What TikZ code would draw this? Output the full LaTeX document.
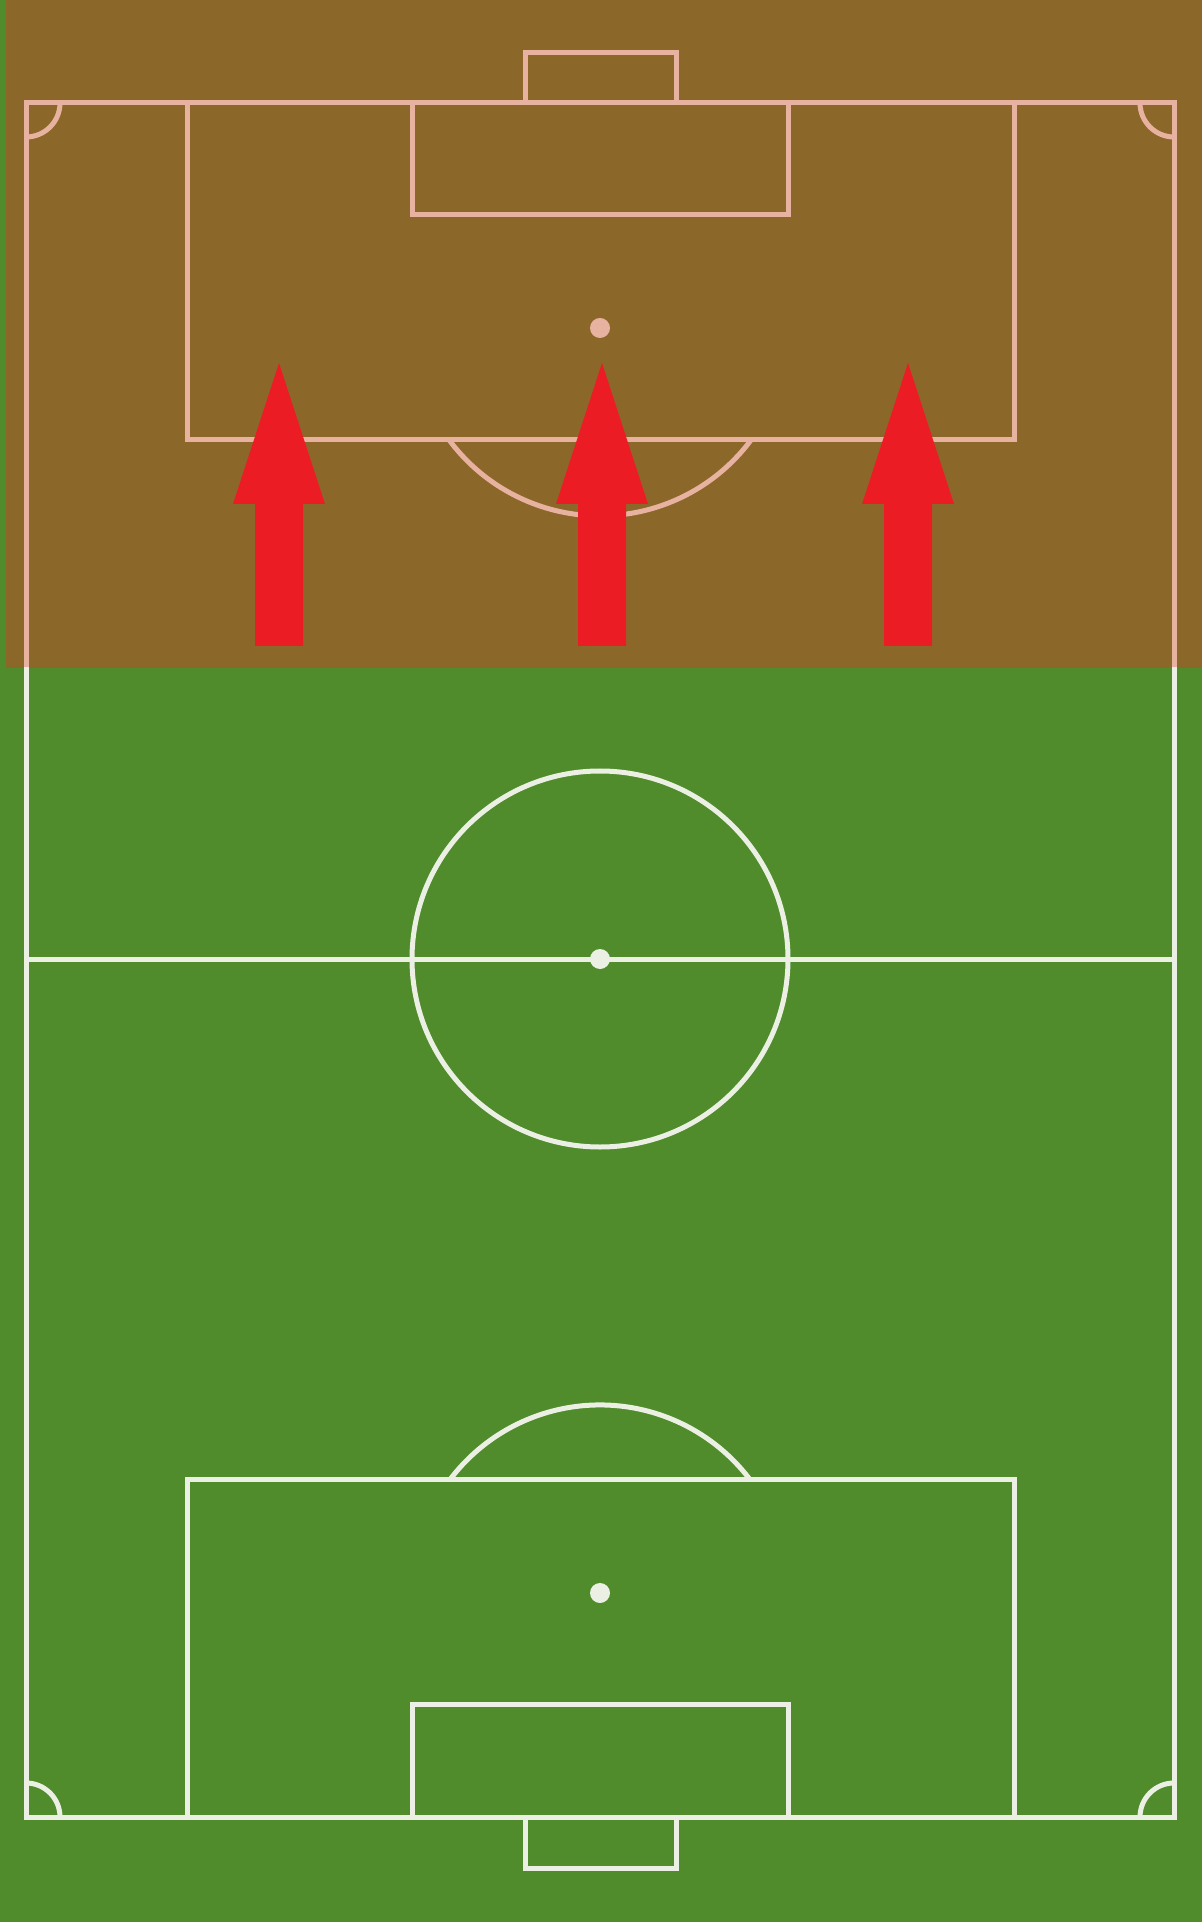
\documentclass[tikz,border=0pt]{standalone}
\usepackage{tikz}

\definecolor{grass}{RGB}{80,140,44}
\definecolor{dirt}{RGB}{140,103,42}
\definecolor{chalk}{RGB}{236,240,228}
\definecolor{pinkchalk}{RGB}{232,178,160}
\definecolor{arrowred}{RGB}{236,28,36}

\tikzset{pitchline/.style={line width=0.5mm}}

% all the chalk marks of the pitch, in colour #1
\newcommand{\pitchmarks}[1]{%
\draw[pitchline,#1] (26,103) rectangle (1174,1817);
\draw[pitchline,#1] (26,959) -- (1174,959);
\draw[pitchline,#1] (600,959) circle[radius=188];
\fill[#1] (600,959) circle[radius=10];
\draw[pitchline,#1] (187,103) rectangle (1014,440);
\draw[pitchline,#1] (412,103) rectangle (788,215);
\draw[pitchline,#1] (525,103) -- (525,53) -- (676,53) -- (676,103);
\fill[#1] (600,328) circle[radius=10];
\draw[pitchline,#1] (751,440) arc[start angle=36.6, end angle=143.4, radius=188];
\draw[pitchline,#1] (187,1479) rectangle (1014,1817);
\draw[pitchline,#1] (412,1704) rectangle (788,1817);
\draw[pitchline,#1] (525,1817) -- (525,1868) -- (676,1868) -- (676,1817);
\fill[#1] (600,1593) circle[radius=10];
\draw[pitchline,#1] (749.5,1479) arc[start angle=-37.3, end angle=-142.7, radius=188];
\draw[pitchline,#1] (60,103) arc[start angle=0, end angle=90, radius=34];
\draw[pitchline,#1] (1140,103) arc[start angle=180, end angle=90, radius=34];
\draw[pitchline,#1] (60,1817) arc[start angle=0, end angle=-90, radius=34];
\draw[pitchline,#1] (1140,1817) arc[start angle=180, end angle=270, radius=34];
}

\begin{document}
\begin{tikzpicture}[x=0.1mm,y=-0.1mm]
\useasboundingbox (0,0) rectangle (1202,1922);
\fill[grass] (0,0) rectangle (1202,1922);
\fill[dirt] (6,0) rectangle (1202,668);
% marks on the dirt half
\begin{scope}
\clip (0,0) rectangle (1202,668);
\pitchmarks{pinkchalk}
\end{scope}
% marks on the grass half
\begin{scope}
\clip (0,668) rectangle (1202,1922);
\pitchmarks{chalk}
\end{scope}
% the three push arrows
\foreach \cx in {279,602,908}{
  \fill[arrowred] (\cx,363) -- (\cx+46,504) -- (\cx+24,504) -- (\cx+24,646)
    -- (\cx-24,646) -- (\cx-24,504) -- (\cx-46,504) -- cycle;
}
\end{tikzpicture}
\end{document}
